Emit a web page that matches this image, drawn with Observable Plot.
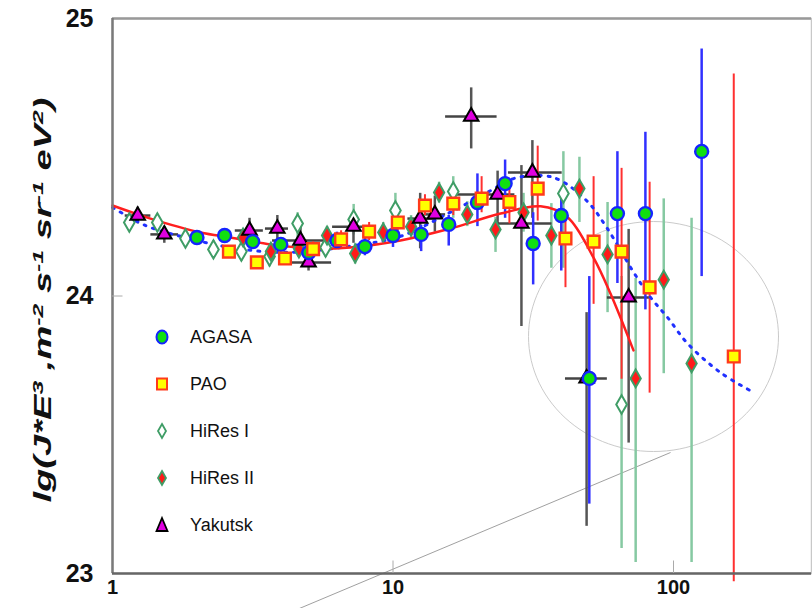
<!DOCTYPE html>
<html><head><meta charset="utf-8">
<script src="https://cdn.jsdelivr.net/npm/d3@7"></script>
<script src="https://cdn.jsdelivr.net/npm/@observablehq/plot@0.6"></script>
<style>
body{margin:0;background:#fff;}
#wrap{position:relative;width:812px;height:608px;overflow:hidden;font-family:"Liberation Sans",Arial,sans-serif;}
#legend{position:absolute;left:150px;top:313px;}
.row{position:absolute;left:0;height:48px;width:160px;display:flex;align-items:center;}
.row svg{width:24px;height:24px;margin-right:16px;}
.row span{font-size:18px;color:#111;}
</style>
</head><body>
<div id="wrap"><div id="chart"></div><div id="legend"></div></div>
<script>
// ---- data (x: energy, EeV; y: lg(J*E^3)) ----
const agasaE  = [2.0, 2.51, 3.16, 3.98, 5.01, 6.31, 7.94, 10.0, 12.6, 15.8, 20.0, 25.1, 31.6, 39.8, 50.1, 63.1, 79.4, 126];
const agasaV  = [24.211, 24.218, 24.196, 24.186, 24.157, 24.200, 24.178, 24.218, 24.222, 24.258, 24.337, 24.405, 24.189, 24.290, 23.703, 24.297, 24.297, 24.521];
const agasaLo = [24.19, 24.195, 24.17, 24.16, 24.13, 24.17, 24.145, 24.175, 24.16, 24.18, 24.25, 24.28, 24.04, 24.09, 23.25, 24.045, 23.95, 24.07];
const agasaHi = [24.235, 24.24, 24.22, 24.21, 24.185, 24.23, 24.21, 24.26, 24.255, 24.29, 24.44, 24.49, 24.30, 24.38, 24.07, 24.52, 24.59, 24.89];

const paoE  = [2.6, 3.27, 4.12, 5.19, 6.53, 8.22, 10.4, 13.0, 16.4, 20.7, 26.0, 32.8, 41.2, 51.9, 65.3, 82.2, 164];
const paoV  = [24.160, 24.121, 24.135, 24.169, 24.204, 24.232, 24.265, 24.326, 24.333, 24.351, 24.339, 24.387, 24.207, 24.196, 24.160, 24.031, 23.782];
const paoLo = [24.14, 24.10, 24.11, 24.145, 24.175, 24.2, 24.235, 24.29, 24.29, 24.30, 24.26, 24.27, 24.03, 23.97, 23.70, 23.65, 22.97];
const paoHi = [24.18, 24.14, 24.16, 24.195, 24.235, 24.265, 24.30, 24.365, 24.38, 24.43, 24.40, 24.54, 24.27, 24.43, 24.46, 24.41, 24.80];

const hr1E  = [1.148, 1.445, 1.82, 2.29, 2.88, 3.63, 4.57, 5.75, 7.24, 10.2, 16.4, 40.5, 65.3];
const hr1V  = [24.265, 24.265, 24.207, 24.168, 24.160, 24.142, 24.261, 24.175, 24.276, 24.308, 24.377, 24.369, 23.609];
const hr1Lo = [24.235, 24.235, 24.175, 24.135, 24.125, 24.105, 24.21, 24.14, 24.22, 24.26, 24.28, 24.10, 23.09];
const hr1Hi = [24.295, 24.295, 24.24, 24.2, 24.195, 24.18, 24.30, 24.21, 24.33, 24.37, 24.43, 24.52, 24.07];

const hr2E  = [2.92, 3.67, 4.62, 5.82, 7.33, 9.23, 11.6, 14.6, 18.4, 23.2, 29.2, 36.7, 46.2, 58.2, 73.3, 92.3, 116];
const hr2V  = [24.211, 24.160, 24.171, 24.218, 24.153, 24.229, 24.250, 24.373, 24.294, 24.240, 24.301, 24.218, 24.387, 24.150, 23.703, 24.059, 23.757];
const hr2Lo = [24.185, 24.13, 24.14, 24.185, 24.115, 24.19, 24.21, 24.335, 24.25, 24.157, 24.23, 24.10, 24.265, 23.94, 23.04, 23.72, 23.04];
const hr2Hi = [24.235, 24.19, 24.20, 24.25, 24.19, 24.265, 24.29, 24.41, 24.34, 24.283, 24.37, 24.333, 24.50, 24.337, 24.063, 24.35, 24.28];

const yakE   = [1.23, 1.53, 3.08, 3.87, 4.68, 5.0, 7.23, 12.5, 14.1, 19.0, 23.6, 28.7, 31.4, 49.0, 69.2];
const yakV   = [24.290, 24.222, 24.236, 24.243, 24.200, 24.121, 24.250, 24.279, 24.294, 24.647, 24.366, 24.261, 24.445, 23.703, 23.995];
const yakElo = [1.11, 1.37, 2.74, 3.51, 3.72, 4.31, 6.09, 11.3, 13.0, 15.4, 16.7, 23.7, 25.8, 41.2, 58.1];
const yakEhi = [1.37, 1.72, 3.45, 4.24, 5.74, 6.04, 8.51, 14.2, 15.4, 23.5, 27.2, 36.9, 40.1, 58.1, 82.8];
const yakLo  = [24.26, 24.19, 24.18, 24.20, 24.16, 24.09, 24.19, 24.17, 24.23, 24.53, 24.24, 23.89, 24.28, 23.17, 23.47];
const yakHi  = [24.32, 24.25, 24.28, 24.29, 24.25, 24.16, 24.30, 24.37, 24.36, 24.75, 24.45, 24.47, 24.56, 23.94, 24.24];

const fitRedE = [1, 1.366, 2.06, 2.634, 3.66, 5.08, 7.05, 10.63, 16.03, 24.2, 33.6, 41.9, 51.8, 59.6, 72.0];
const fitRedV = [24.326, 24.279, 24.229, 24.211, 24.186, 24.171, 24.175, 24.2, 24.243, 24.297, 24.323, 24.284, 24.139, 24.009, 23.804];

const fitBlueE = [1, 1.311, 1.705, 2.111, 2.70, 3.60, 4.68, 7.05, 10.63, 16.03, 22.3, 26.9, 34.4, 39.6, 49.3, 58.2, 71.4, 82.8, 95.2, 112.2, 147.1, 188];
const fitBlueV = [24.319, 24.254, 24.218, 24.194, 24.173, 24.159, 24.159, 24.180, 24.215, 24.302, 24.380, 24.423, 24.434, 24.416, 24.341, 24.242, 24.092, 23.995, 23.923, 23.829, 23.724, 23.659];

const xTicks = [1, 10, 100];
const yTicks = [23, 24, 25];
const seriesNames = ["AGASA", "PAO", "HiRes I", "HiRes II", "Yakutsk"];

// annotation: ellipse (centre lgE, centre y, half-axes) and pointer line
const ellipseC = {lgE: 1.9287, v: 23.854, a: 0.4456, b: 0.4144};
const pointerE = [97.6, 4.3];
const pointerV = [23.436, 22.86];

// ---- tables ----
const agasa = agasaE.map((E, i) => ({E, v: agasaV[i], lo: agasaLo[i], hi: agasaHi[i]}));
const pao = paoE.map((E, i) => ({E, v: paoV[i], lo: paoLo[i], hi: paoHi[i]}));
const hr1 = hr1E.map((E, i) => ({E, v: hr1V[i], lo: hr1Lo[i], hi: hr1Hi[i]}));
const hr2 = hr2E.map((E, i) => ({E, v: hr2V[i], lo: hr2Lo[i], hi: hr2Hi[i]}));
const yak = yakE.map((E, i) => ({E, v: yakV[i], El: yakElo[i], Eh: yakEhi[i], lo: yakLo[i], hi: yakHi[i]}));
const red = fitRedE.map((E, i) => ({E, v: fitRedV[i]}));
const blue = fitBlueE.map((E, i) => ({E, v: fitBlueV[i]}));
const ell = d3.range(0, 361, 3).map(t => ({
  E: 10 ** (ellipseC.lgE + ellipseC.a * Math.cos(t * Math.PI / 180)),
  v: ellipseC.v + ellipseC.b * Math.sin(t * Math.PI / 180)
}));
const pointer = [{x1: pointerE[0], y1: pointerV[0], x2: pointerE[1], y2: pointerV[1]}];

const xMax = 10 ** ((811 - 112) / 280.5);

const cBarHr = "#86c9a2", cHr = "#3f9d66";

const chart = Plot.plot({
  width: 812, height: 608,
  marginLeft: 112, marginRight: 1, marginTop: 18, marginBottom: 35,
  x: {type: "log", domain: [1, xMax], axis: null},
  y: {domain: [23, 25], axis: null},
  clip: false,
  style: {fontFamily: '"Liberation Sans", Arial, sans-serif', background: "white", overflow: "visible"},
  marks: [
    // frame
    Plot.frame({stroke: "#c8c8c8", strokeWidth: 1.5}),
    Plot.ruleY([25], {stroke: "#999", strokeWidth: 2.5}),
    // annotation
    Plot.line(ell, {x: "E", y: "v", stroke: "#c4c4c4", strokeWidth: 0.9}),
    Plot.link(pointer, {x1: "x1", y1: "y1", x2: "x2", y2: "y2", stroke: "#888", strokeWidth: 0.8}),
    // error bars
    Plot.ruleX(hr1, {x: "E", y1: "lo", y2: "hi", stroke: cBarHr, strokeWidth: 2.5}),
    Plot.ruleX(hr2, {x: "E", y1: "lo", y2: "hi", stroke: cBarHr, strokeWidth: 2.5}),
    Plot.ruleX(yak, {x: "E", y1: "lo", y2: "hi", stroke: "#555", strokeWidth: 2.5}),
    Plot.ruleY(yak, {y: "v", x1: "El", x2: "Eh", stroke: "#444", strokeWidth: 2.5}),
    Plot.ruleX(agasa, {x: "E", y1: "lo", y2: "hi", stroke: "#3030ff", strokeWidth: 2.5}),
    Plot.ruleX(pao, {x: "E", y1: "lo", y2: "hi", stroke: "#ff3030", strokeWidth: 2}),
    // fits
    Plot.line(blue, {x: "E", y: "v", curve: "catmull-rom", stroke: "#2030ff", strokeWidth: 3, strokeDasharray: "2,7"}),
    Plot.line(red, {x: "E", y: "v", curve: "catmull-rom", stroke: "#ff1f1f", strokeWidth: 2.5}),
    // markers
    Plot.dot(hr1, {x: "E", y: "v", symbol: "diamond", r: 5.6, fill: "white", stroke: cHr, strokeWidth: 2}),
    Plot.dot(hr2, {x: "E", y: "v", symbol: "diamond", r: 5.4, fill: "#ff1a1a", stroke: cHr, strokeWidth: 2}),
    Plot.dot(yak, {x: "E", y: "v", symbol: "triangle", r: 5.4, fill: "#e000e0", stroke: "#000", strokeWidth: 2}),
    Plot.dot(agasa, {x: "E", y: "v", r: 6.5, fill: "#10e010", stroke: "#1424ff", strokeWidth: 2.4}),
    Plot.dot(pao, {x: "E", y: "v", symbol: "square", r: 6.6, fill: "#ffff00", stroke: "#ff3a1a", strokeWidth: 2.4}),
    // axes lines and ticks
    Plot.ruleX([1], {stroke: "#7a7a7a", strokeWidth: 2.5}),
    Plot.ruleY([23], {stroke: "#666", strokeWidth: 2.5}),
    Plot.ruleX(xTicks.slice(1), {y1: 23, y2: 23.045, stroke: "#aaa", strokeWidth: 1}),
    Plot.ruleY([24], {x1: 1, x2: 1.09, stroke: "#aaa", strokeWidth: 1}),
    Plot.axisX(xTicks, {tickSize: 0, tickPadding: 6, tickFormat: d => String(d), fontSize: 20, fontWeight: "bold", fill: "#111"}),
    Plot.axisY(yTicks, {tickSize: 0, tickPadding: 19, tickFormat: d => String(d), fontSize: 25, fontWeight: "bold", fill: "#111"})
  ]
});
document.getElementById("chart").append(chart);

// y-axis title with superscripts
const svg = d3.select(chart);
const lab = svg.append("text")
  .attr("transform", "translate(51,300) rotate(-90)")
  .attr("text-anchor", "middle")
  .attr("font-family", '"Liberation Sans", Arial, sans-serif')
  .attr("font-size", 23).attr("font-weight", "bold").attr("font-style", "italic")
  .attr("fill", "#111")
  .attr("textLength", 405).attr("lengthAdjust", "spacingAndGlyphs");
const parts = [["lg(J*E", 0], ["3", 1], [" ,m", 0], ["-2", 1], [" s", 0], ["-1", 1], [" sr", 0], ["-1", 1], [" eV", 0], ["2", 1], [")", 0]];
parts.forEach(([s, sup]) => {
  const t = lab.append("tspan").text(s);
  if (sup) t.attr("font-size", 15).attr("baseline-shift", "super");
});

// legend
const legendSym = {
  "AGASA": '<ellipse cx="12" cy="12" rx="5.5" ry="6.5" fill="#10e010" stroke="#1424ff" stroke-width="2"/>',
  "PAO": '<rect x="7" y="6.5" width="10" height="11" fill="#ffff00" stroke="#ff3a1a" stroke-width="2"/>',
  "HiRes I": '<path d="M12 5 L16 12 L12 19 L8 12 Z" fill="#fff" stroke="#3f9d66" stroke-width="1.8"/>',
  "HiRes II": '<path d="M12 5 L16 12 L12 19 L8 12 Z" fill="#ff1a1a" stroke="#3f9d66" stroke-width="1.8"/>',
  "Yakutsk": '<path d="M12 5 L17.5 18 L6.5 18 Z" fill="#e000e0" stroke="#000" stroke-width="1.8"/>'
};
const lg = document.getElementById("legend");
seriesNames.forEach((n, i) => {
  const r = document.createElement("div");
  r.className = "row";
  r.style.top = (i * 47) + "px";
  r.innerHTML = `<svg viewBox="0 0 24 24">${legendSym[n]}</svg><span>${n}</span>`;
  lg.append(r);
});
</script>
</body></html>
